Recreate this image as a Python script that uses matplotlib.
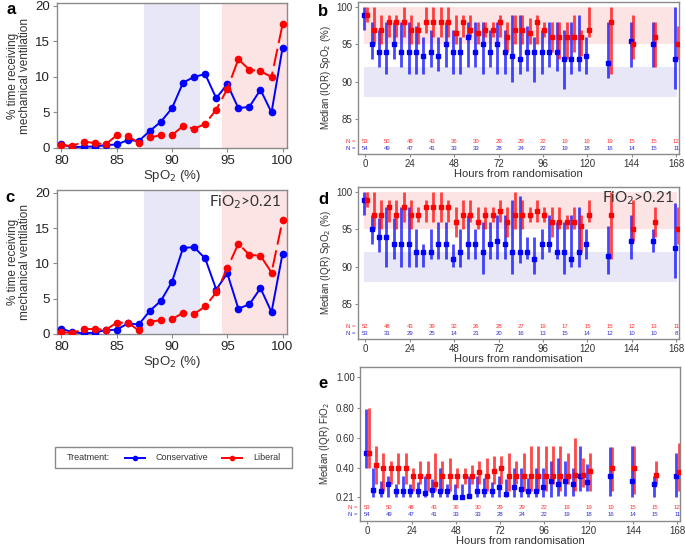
import matplotlib
matplotlib.use("Agg")
import matplotlib.pyplot as plt
from matplotlib.lines import Line2D
from matplotlib.patches import Rectangle

# ---------------- data ----------------
spo2 = list(range(80, 101))
a_cons = [0.5, 0.1, 0.2, 0.2, 0.4, 0.5, 1.1, 1.0, 2.4, 3.7, 5.6, 9.2, 10.0, 10.4, 7.0, 9.0, 5.6, 5.8, 8.2, 5.0, 14.1]
a_lib = [0.4, 0.3, 0.9, 0.7, 0.5, 1.8, 1.7, 0.7, 1.5, 1.8, 1.8, 3.1, 2.7, 3.4, 5.4, 8.3, 12.5, 11.0, 10.8, 10.0, 17.4]
c_cons = [0.75, 0.25, 0.1, 0.2, 0.55, 0.6, 1.5, 1.35, 3.3, 4.7, 7.4, 12.2, 12.3, 10.7, 6.3, 8.6, 3.6, 4.2, 6.5, 3.1, 11.4]
c_lib = [0.25, 0.15, 0.7, 0.7, 0.6, 1.6, 1.6, 0.5, 1.75, 1.95, 2.1, 3.0, 2.85, 3.9, 5.9, 9.3, 12.8, 11.2, 11.1, 8.7, 16.1]

hours = list(range(0, 121, 4)) + [132, 144, 156, 168]

b_cons_med = [99, 95, 94, 94, 95, 94, 94, 94, 93.5, 94, 93.5, 95, 94, 94, 96, 94, 95, 94, 95, 94, 93.5, 93, 94, 94, 94, 94, 94, 93, 93, 93, 93.5, 92.5, 95.5, 95, 93]
b_cons_lo = [97, 93, 92, 91, 93, 92, 91, 91, 91, 92, 91.5, 92, 91, 91, 92, 92, 91, 92, 91, 91, 90, 91, 91.5, 90, 91, 92, 91.5, 89, 91, 91.5, 91, 90.5, 92, 92, 89]
b_cons_hi = [100, 98, 97, 98, 98, 98, 98, 97.5, 96, 97, 96, 98, 97, 96, 98, 98, 98, 97, 98, 97, 99, 99, 97.5, 96, 97, 98, 98, 97, 98, 99, 96, 98, 98, 98, 100]
b_lib_med = [99, 97, 97, 98, 98, 98, 97, 97, 98, 98, 98, 98, 96.5, 98, 97, 96.5, 97, 97, 98, 96, 97, 97, 96.5, 98, 97, 96, 96, 96, 96, 96, 97, 98, 95, 96, 95]
b_lib_lo = [98, 95, 95, 96, 96, 96, 95, 95, 96.5, 96, 96, 96, 95, 96, 96, 95, 96, 96, 96, 94, 95, 95, 95, 95, 96, 94, 93, 93, 94, 93.5, 96, 91, 93, 92, 93]
b_lib_hi = [100, 100, 99, 99, 99, 100, 99, 98, 100, 100, 100, 100, 99, 99, 99, 98, 98, 98, 99, 98, 99, 99, 98.5, 99, 98, 98, 98, 98, 99, 97, 100, 100, 99, 98, 97.5]

d_cons_med = [99, 95, 94, 94, 93, 93, 93, 92, 92, 92, 93, 93, 91, 92, 93, 93, 92, 93, 93.5, 93, 92, 92, 92, 91, 93, 93, 92, 92, 91, 92, 93, 91.5, 93.5, 93.5, 92.5]
d_cons_lo = [97, 93, 92, 90, 91, 90, 90, 90, 90, 91, 91, 91, 90, 90, 91, 91, 89, 91, 91, 91, 89, 90.5, 91, 89, 91, 92, 91, 89, 90, 90, 91, 89, 91, 92, 88.5]
d_cons_hi = [100, 97, 96.5, 98, 96.5, 98, 98, 95, 93, 95, 96, 96, 93, 95, 97, 95, 96, 96, 97, 97, 99, 99.5, 94, 94, 95, 97, 96, 96, 97, 98, 95, 95.5, 97, 95, 98.5]
d_lib_med = [99, 97, 97, 98, 97, 98, 97, 97, 98, 98, 98, 98, 96, 97, 97, 96, 97, 97, 97.5, 96, 97, 97, 97, 97.5, 97, 96, 96, 96, 96, 95.5, 97, 97, 95, 96, 95]
d_lib_lo = [98, 95, 95, 96, 95, 96, 95, 96, 96, 96, 96, 96, 94, 95, 96, 95, 95, 96, 96, 94, 95, 95, 96, 96, 96, 94, 95, 95, 95, 92, 96, 91, 93.5, 94, 93]
d_lib_hi = [100, 100, 99, 99, 99, 100, 99, 98, 99, 100, 100, 99, 98, 99, 99, 98, 98, 98, 99, 98, 100, 99, 98, 99, 98, 98, 98, 97, 98, 97, 99, 100, 99, 98, 98]

e_cons_med = [0.50, 0.26, 0.25, 0.30, 0.25, 0.25, 0.25, 0.25, 0.24, 0.26, 0.25, 0.25, 0.21, 0.21, 0.22, 0.25, 0.25, 0.25, 0.28, 0.23, 0.28, 0.265, 0.25, 0.25, 0.28, 0.32, 0.30, 0.32, 0.30, 0.35, 0.31, 0.35, 0.32, 0.30, 0.35]
e_cons_lo = [0.40, 0.21, 0.21, 0.21, 0.21, 0.21, 0.21, 0.21, 0.21, 0.21, 0.21, 0.21, 0.21, 0.21, 0.21, 0.21, 0.21, 0.21, 0.21, 0.21, 0.21, 0.21, 0.21, 0.21, 0.21, 0.21, 0.22, 0.22, 0.22, 0.25, 0.25, 0.22, 0.21, 0.21, 0.21]
e_cons_hi = [0.79, 0.40, 0.32, 0.35, 0.30, 0.35, 0.30, 0.31, 0.35, 0.33, 0.40, 0.30, 0.30, 0.30, 0.35, 0.35, 0.34, 0.31, 0.35, 0.33, 0.40, 0.40, 0.34, 0.40, 0.40, 0.45, 0.47, 0.45, 0.40, 0.55, 0.43, 0.54, 0.55, 0.35, 0.50]
e_lib_med = [0.50, 0.42, 0.40, 0.40, 0.40, 0.40, 0.35, 0.35, 0.35, 0.30, 0.35, 0.35, 0.35, 0.35, 0.35, 0.375, 0.35, 0.38, 0.40, 0.35, 0.35, 0.35, 0.35, 0.35, 0.35, 0.35, 0.35, 0.35, 0.36, 0.36, 0.38, 0.40, 0.40, 0.36, 0.375]
e_lib_lo = [0.40, 0.30, 0.25, 0.30, 0.30, 0.30, 0.25, 0.30, 0.25, 0.25, 0.25, 0.25, 0.27, 0.30, 0.30, 0.30, 0.25, 0.30, 0.30, 0.25, 0.30, 0.25, 0.25, 0.25, 0.25, 0.30, 0.25, 0.30, 0.25, 0.28, 0.25, 0.25, 0.23, 0.30, 0.25]
e_lib_hi = [0.80, 0.55, 0.50, 0.45, 0.50, 0.50, 0.40, 0.45, 0.45, 0.50, 0.45, 0.47, 0.40, 0.40, 0.42, 0.45, 0.47, 0.48, 0.48, 0.50, 0.45, 0.50, 0.55, 0.55, 0.55, 0.55, 0.55, 0.50, 0.60, 0.47, 0.50, 0.54, 0.55, 0.45, 0.57]

n_hours = [0, 12, 24, 36, 48, 60, 72, 84, 96, 108, 120, 132, 144, 156, 168]
n_lib_b = [53, 50, 48, 43, 36, 30, 29, 29, 22, 19, 19, 19, 15, 15, 12]
n_cons_b = [54, 49, 47, 41, 33, 33, 28, 24, 22, 19, 18, 16, 14, 15, 11]
n_lib_d = [52, 48, 43, 39, 32, 26, 28, 27, 19, 17, 15, 15, 12, 13, 11]
n_cons_d = [53, 31, 29, 25, 14, 21, 20, 16, 13, 15, 14, 12, 10, 10, 8]

legend_title = "Treatment:"
group_names = ["Conservative", "Liberal"]

# ---------------- style ----------------
BLUE = "#0000ff"
RED = "#ff0000"
BSHADE = "#e7e7f8"
RSHADE = "#fde4e4"
SPINE = "#8a8a8a"
TXT = "#333333"
W, H = 685, 546

plt.rcParams['font.family'] = ['Liberation Sans', 'DejaVu Sans']
fig = plt.figure(figsize=(W / 100, H / 100), dpi=100)


def rect(l, t, r, b):
    return [l / W, 1 - b / H, (r - l) / W, (b - t) / H]


def style_spines(ax):
    for s in ax.spines.values():
        s.set_color(SPINE)
        s.set_linewidth(1.0)


def vent_panel(ax, cons, lib, fio=False):
    ax.axvspan(87.5, 92.5, color=BSHADE, lw=0, zorder=0)
    ax.axvspan(94.5, 100.4, color=RSHADE, lw=0, zorder=0)
    ax.plot(spo2, cons, color=BLUE, marker="o", ms=4.5, lw=1.4, zorder=3)
    ax.plot(spo2, lib, color=RED, marker="o", ms=4.5, lw=1.4, ls=(0, (9, 3)), zorder=3)
    ax.set_xlim(79.6, 100.4)
    ax.set_ylim(0, 20.4)
    ax.set_xticks([80, 85, 90, 95, 100])
    ax.set_yticks([0, 5, 10, 15, 20])
    ax.tick_params(labelsize=9.5, length=3, color=SPINE, pad=2, labelcolor="#222222")
    ax.set_ylabel("% time receiving\nmechanical ventilation", fontsize=8.5, color=TXT, labelpad=3, linespacing=0.95)
    ax.set_xlabel("SpO$_2$ (%)", fontsize=9.5, color=TXT, labelpad=1)
    style_spines(ax)
    if fio:
        ax.text(0.975, 0.975, "FiO$_2$>0.21", transform=ax.transAxes, ha="right", va="top",
                fontsize=11, color=TXT, family=["Lato", "DejaVu Sans"])


ax_a = fig.add_axes(rect(57, 3, 287, 148))
vent_panel(ax_a, a_cons, a_lib)
ax_c = fig.add_axes(rect(57, 190, 287, 334))
vent_panel(ax_c, c_cons, c_lib, fio=True)


def time_panel(ax, cm, cl, ch, lm, ll, lh, nl, nc, ylim, yticks, yticklabels, ylabel, shade=True):
    off = 0.7
    hb = [h - off for h in hours]
    hr = [h + off for h in hours]
    if shade:
        ax.fill_between([-1, 168.5], 95, 100, color=RSHADE, lw=0, zorder=0)
        ax.fill_between([-1, 168.5], 88, 92, color=BSHADE, lw=0, zorder=0)
    ax.vlines(hb, cl, ch, color=BLUE, lw=2.0, alpha=0.72, zorder=2)
    ax.vlines(hr, ll, lh, color=RED, lw=2.0, alpha=0.72, zorder=2)
    ax.plot(hb, cm, ls="none", marker="s", ms=3, color=BLUE, zorder=3)
    ax.plot(hr, lm, ls="none", marker="s", ms=3, color=RED, zorder=3)
    ax.set_xlim(-4, 169.5)
    ax.set_ylim(*ylim)
    ax.set_xticks([0, 24, 48, 72, 96, 120, 144, 168])
    ax.set_yticks(yticks)
    ax.set_yticklabels(yticklabels)
    ax.tick_params(labelsize=7, length=2.5, color=SPINE, pad=1.2, labelcolor=TXT)
    ax.set_xlabel("Hours from randomisation", fontsize=8, color=TXT, labelpad=0)
    ax.set_ylabel(ylabel, fontsize=7, color=TXT, labelpad=3)
    style_spines(ax)
    yr = 0.083 if shade else 0.09
    yb = 0.038 if shade else 0.042
    tr = ax.get_xaxis_transform()
    for h, a, b in zip(n_hours, nl, nc):
        ax.text(h, yr, str(a), transform=tr, ha="center", va="center", fontsize=4.3, color="#ff3030")
        ax.text(h, yb, str(b), transform=tr, ha="center", va="center", fontsize=4.3, color="#3030d0")
    ax.text(-0.008, yr, "N =", transform=ax.transAxes, ha="right", va="center", fontsize=4.3, color="#ff3030")
    ax.text(-0.008, yb, "N =", transform=ax.transAxes, ha="right", va="center", fontsize=4.3, color="#3030d0")


ax_b = fig.add_axes(rect(358, 2, 679, 154))
time_panel(ax_b, b_cons_med, b_cons_lo, b_cons_hi, b_lib_med, b_lib_lo, b_lib_hi, n_lib_b, n_cons_b,
           (80.3, 100.7), [85, 90, 95, 100], ["85", "90", "95", "100"], "Median (IQR) SpO$_2$ (%)")

ax_d = fig.add_axes(rect(358, 187, 679, 339))
time_panel(ax_d, d_cons_med, d_cons_lo, d_cons_hi, d_lib_med, d_lib_lo, d_lib_hi, n_lib_d, n_cons_d,
           (80.3, 100.7), [85, 90, 95, 100], ["85", "90", "95", "100"], "Median (IQR) SpO$_2$ (%)")
ax_d.text(0.985, 0.985, "FiO$_2$>0.21", transform=ax_d.transAxes, ha="right", va="top",
          fontsize=11, color=TXT, family=["Lato", "DejaVu Sans"])

ax_e = fig.add_axes(rect(360, 367, 680, 521))
time_panel(ax_e, e_cons_med, e_cons_lo, e_cons_hi, e_lib_med, e_lib_lo, e_lib_hi, n_lib_b, n_cons_b,
           (0.055, 1.066), [0.21, 0.40, 0.60, 0.80, 1.00], ["0.21", "0.40", "0.60", "0.80", "1.00"],
           "Median (IQR) FiO$_2$", shade=False)

# panel letters
for letter, (px, py) in zip("abcde", [(6, 9), (318, 12), (5, 197), (318, 199), (318, 384)]):
    fig.text(px / W, 1 - py / H, letter, fontsize=12, fontweight="bold", va="center", ha="left")

# ---------------- legend (figure-level key) ----------------
fig.patches.append(Rectangle((55 / W, 1 - 468 / H), 237 / W, 21 / H, transform=fig.transFigure,
                             fill=False, edgecolor=SPINE, lw=1.0))
ly = 1 - 457.5 / H
fig.text(67 / W, ly, legend_title, fontsize=6.5, color=TXT, va="center", ha="left")
for (x0, x1, tx), col, name in zip([(125, 145, 156), (222, 242, 253)], [BLUE, RED], group_names):
    fig.add_artist(Line2D([x0 / W, x1 / W], [ly, ly], transform=fig.transFigure, color=col, lw=1.4))
    fig.add_artist(Line2D([(x0 + x1) / 2 / W], [ly], transform=fig.transFigure, color=col,
                          marker="o", ms=3))
    fig.text(tx / W, ly, name, fontsize=6.5, color=TXT, va="center", ha="left")

fig.savefig("out.png", dpi=100)
